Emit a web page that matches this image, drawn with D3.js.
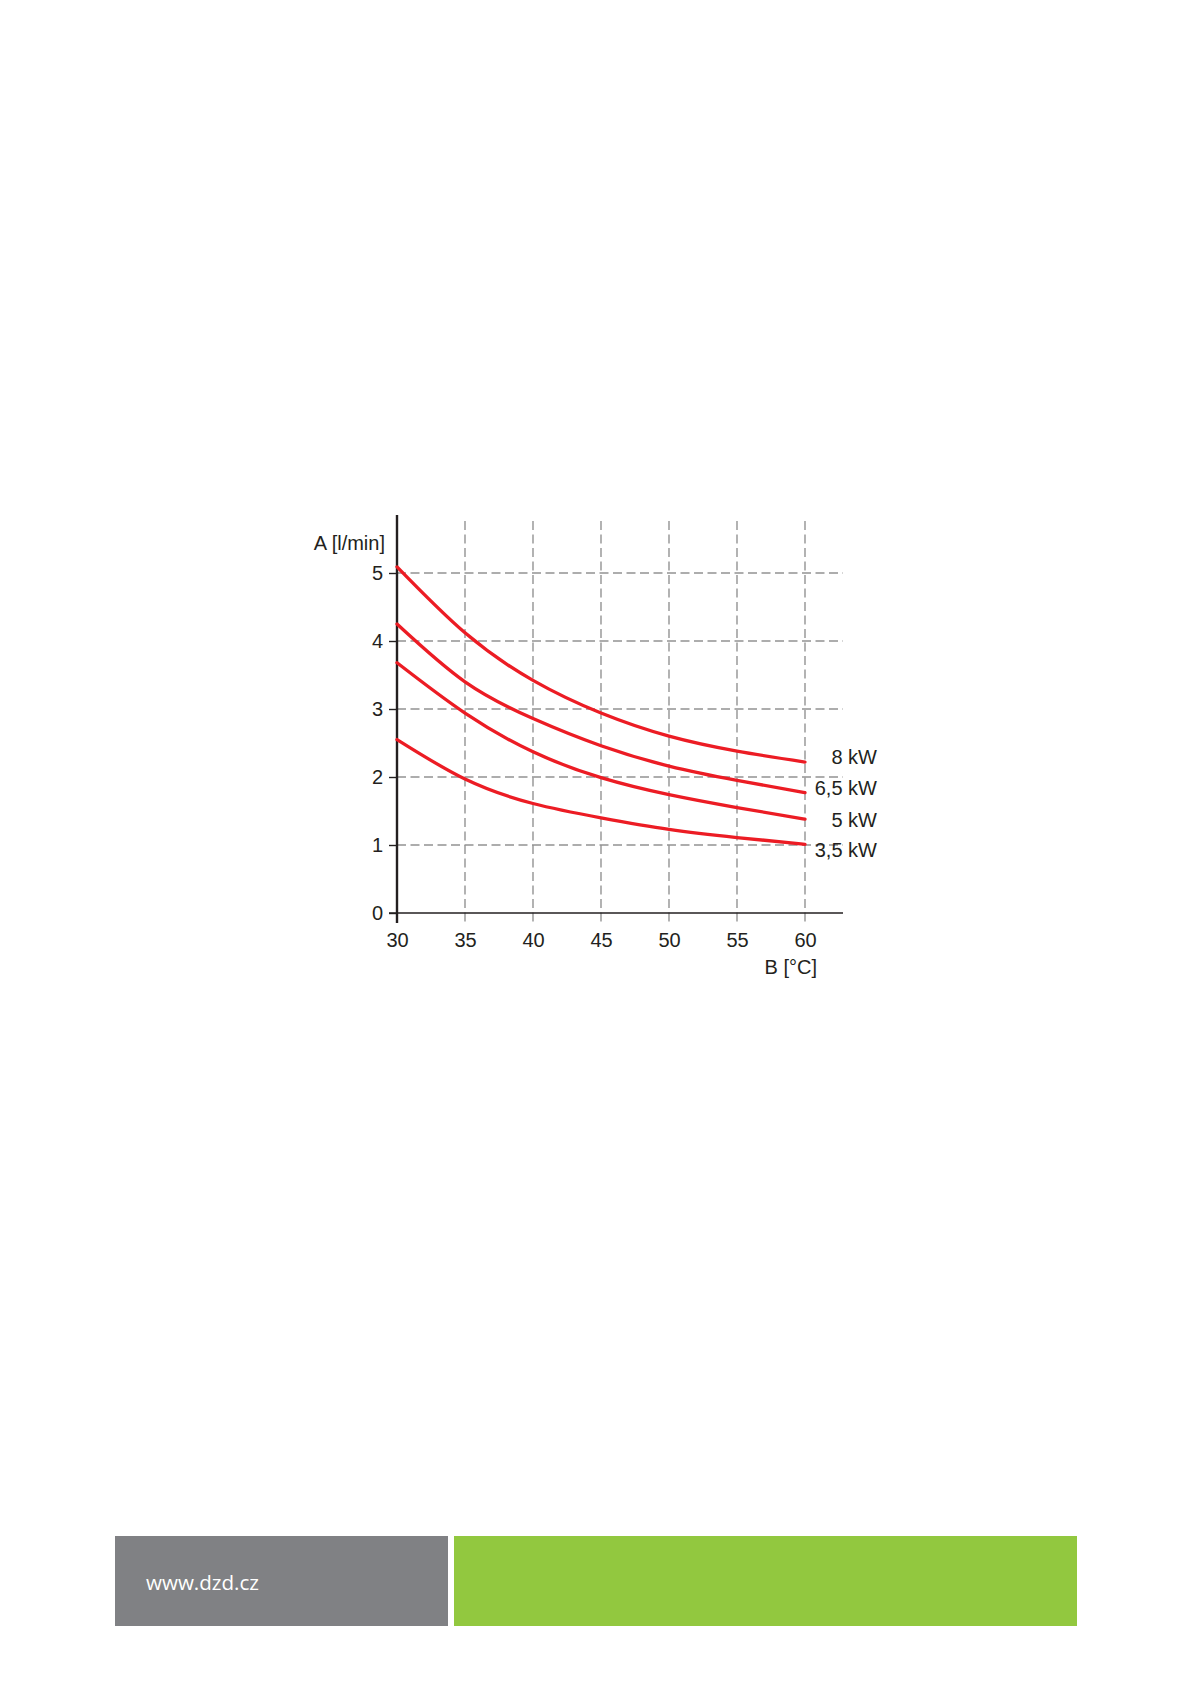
<!DOCTYPE html>
<html>
<head>
<meta charset="utf-8">
<script src="https://cdn.jsdelivr.net/npm/d3@7"></script>
<style>
  html, body { margin: 0; padding: 0; background: #ffffff; }
  svg { display: block; }
</style>
</head>
<body>
<svg id="chart" width="1192" height="1685"></svg>
<script>
// ---- data ----
const xTicks = [30, 35, 40, 45, 50, 55, 60];
const yTicks = [0, 1, 2, 3, 4, 5];
const seriesNames = ["8 kW", "6,5 kW", "5 kW", "3,5 kW"];
const flow8 = [5.09, 4.12, 3.42, 2.94, 2.60, 2.38, 2.22];
const flow65 = [4.25, 3.40, 2.86, 2.46, 2.16, 1.95, 1.77];
const flow5 = [3.68, 2.94, 2.37, 1.99, 1.74, 1.55, 1.38];
const flow35 = [2.55, 1.97, 1.61, 1.40, 1.23, 1.11, 1.01];
const yTitle = "A [l/min]";
const xTitle = "B [°C]";
const footerText = "www.dzd.cz";

const seriesValues = [flow8, flow65, flow5, flow35];

// ---- layout ----
const svg = d3.select("#chart");
const x = d3.scaleLinear().domain([30, 60]).range([397, 805]);
const y = d3.scaleLinear().domain([0, 5]).range([913, 573]);
const font = "'Liberation Sans', Arial, Helvetica, sans-serif";
const fs = 20;
const ink = "#231f20";
const gridColor = "#939393";

// gridlines
const g = svg.append("g");
g.selectAll("line.vgrid").data(xTicks.slice(1)).join("line")
  .attr("x1", d => x(d)).attr("x2", d => x(d))
  .attr("y1", 521).attr("y2", 923)
  .attr("stroke", gridColor).attr("stroke-width", 1.4)
  .attr("stroke-dasharray", "9,4.5");
g.selectAll("line.hgrid").data(yTicks.slice(1)).join("line")
  .attr("x1", x(30)).attr("x2", 843)
  .attr("y1", d => y(d)).attr("y2", d => y(d))
  .attr("stroke", gridColor).attr("stroke-width", 1.4)
  .attr("stroke-dasharray", "9,4.5");

// x axis
const xAxis = svg.append("g").attr("transform", `translate(0,${y(0)})`)
  .call(d3.axisBottom(x).tickValues(xTicks).tickSize(0).tickPadding(20).tickFormat(d3.format("d")));
xAxis.select(".domain").remove();
xAxis.selectAll("text").attr("font-family", font).attr("font-size", fs).attr("fill", ink);
svg.append("line").attr("x1", 389).attr("x2", 843).attr("y1", y(0)).attr("y2", y(0))
  .attr("stroke", ink).attr("stroke-width", 1.4);

// y axis
const yAxis = svg.append("g").attr("transform", `translate(${x(30)},0)`)
  .call(d3.axisLeft(y).tickValues(yTicks).tickSize(8).tickPadding(6).tickFormat(d3.format("d")));
yAxis.select(".domain").remove();
yAxis.selectAll("line").attr("stroke", ink).attr("stroke-width", 1.4);
yAxis.selectAll("text").attr("font-family", font).attr("font-size", fs).attr("fill", ink);
svg.append("line").attr("x1", x(30)).attr("x2", x(30)).attr("y1", 515).attr("y2", 923)
  .attr("stroke", ink).attr("stroke-width", 2.4);

// curves
const line = d3.line().x((d, i) => x(xTicks[i])).y(d => y(d)).curve(d3.curveNatural);
svg.append("g").selectAll("path").data(seriesValues).join("path")
  .attr("d", d => line(d))
  .attr("fill", "none").attr("stroke", "#ec1c24").attr("stroke-width", 3.3)
  .attr("stroke-linecap", "round");

// series labels
const labelY = [764, 795, 827, 857];
svg.append("g").selectAll("text").data(seriesNames).join("text")
  .attr("x", 877).attr("y", (d, i) => labelY[i])
  .attr("text-anchor", "end").attr("font-family", font).attr("font-size", fs).attr("fill", ink)
  .text(d => d);

// axis titles
svg.append("text").attr("x", 385).attr("y", 550).attr("text-anchor", "end")
  .attr("font-family", font).attr("font-size", fs).attr("fill", ink).text(yTitle);
svg.append("text").attr("x", 817).attr("y", 974).attr("text-anchor", "end")
  .attr("font-family", font).attr("font-size", fs).attr("fill", ink).text(xTitle);

// footer
svg.append("rect").attr("x", 115).attr("y", 1536).attr("width", 333).attr("height", 90).attr("fill", "#808184");
svg.append("rect").attr("x", 454).attr("y", 1536).attr("width", 623).attr("height", 90).attr("fill", "#92c83f");
svg.append("text").attr("x", 146).attr("y", 1590)
  .attr("font-family", "'Open Sans', sans-serif").attr("font-size", 20).attr("fill", "#ffffff")
  .attr("textLength", 113).attr("lengthAdjust", "spacingAndGlyphs")
  .text(footerText);
</script>
</body>
</html>
